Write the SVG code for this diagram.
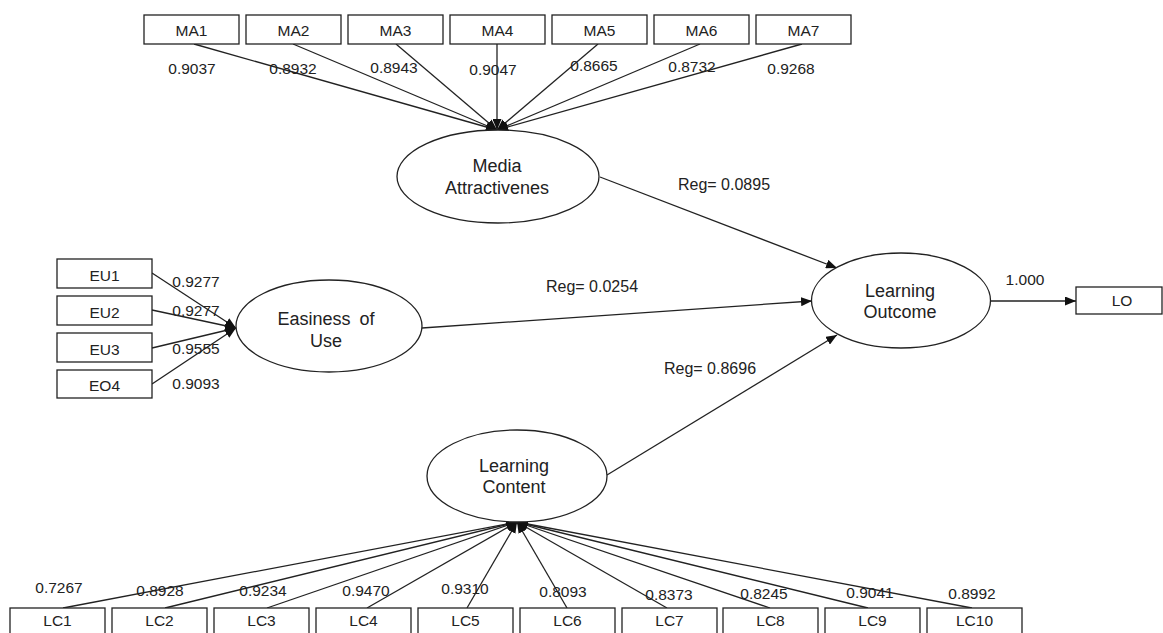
<svg xmlns="http://www.w3.org/2000/svg" width="1163" height="633" viewBox="0 0 1163 633">
<defs>
<style>
.box{fill:#fff;stroke:#222;stroke-width:1.3}
.ell{fill:#fff;stroke:#222;stroke-width:1.3}
.t{font-family:"Liberation Sans",Arial,sans-serif;font-size:15.5px;fill:#222;text-anchor:middle}
.r{font-family:"Liberation Sans",Arial,sans-serif;font-size:16px;fill:#222;text-anchor:middle}
.et{font-family:"Liberation Sans",Arial,sans-serif;font-size:18px;fill:#222;text-anchor:middle}
.c{stroke:#222;stroke-width:1.3;fill:none;marker-end:url(#ah)}
</style>
<marker id="ah" markerUnits="userSpaceOnUse" markerWidth="11" markerHeight="9" refX="11" refY="4.5" orient="auto">
<path d="M0,0 L11,4.5 L0,9 z" fill="#111"/>
</marker>
</defs>
<rect width="1163" height="633" fill="#fff"/>
<g id="connectors">
<line class="c" x1="194" y1="44" x2="497" y2="130"/>
<line class="c" x1="293" y1="44" x2="497" y2="130"/>
<line class="c" x1="396" y1="44" x2="497" y2="130"/>
<line class="c" x1="497" y1="44" x2="497" y2="130"/>
<line class="c" x1="598" y1="44" x2="497" y2="130"/>
<line class="c" x1="700" y1="44" x2="497" y2="130"/>
<line class="c" x1="802" y1="44" x2="497" y2="130"/>
<line class="c" x1="152" y1="273" x2="236" y2="328"/>
<line class="c" x1="152" y1="310" x2="236" y2="328"/>
<line class="c" x1="152" y1="348" x2="236" y2="328"/>
<line class="c" x1="152" y1="384" x2="236" y2="328"/>
<line class="c" x1="63" y1="608" x2="517" y2="522"/>
<line class="c" x1="165" y1="608" x2="517" y2="522"/>
<line class="c" x1="267" y1="608" x2="517" y2="522"/>
<line class="c" x1="367" y1="608" x2="517" y2="522"/>
<line class="c" x1="467" y1="608" x2="517" y2="522"/>
<line class="c" x1="567" y1="608" x2="517" y2="522"/>
<line class="c" x1="667" y1="608" x2="517" y2="522"/>
<line class="c" x1="770" y1="608" x2="517" y2="522"/>
<line class="c" x1="868" y1="608" x2="517" y2="522"/>
<line class="c" x1="972" y1="608" x2="517" y2="522"/>
<line class="c" x1="600" y1="177" x2="837" y2="268"/>
<line class="c" x1="422" y1="328" x2="812" y2="301"/>
<line class="c" x1="607" y1="475" x2="837" y2="335"/>
<line class="c" x1="991" y1="301" x2="1076" y2="301"/>
</g>
<g id="labels">
<text class="t" x="192" y="74">0.9037</text>
<text class="t" x="293" y="74">0.8932</text>
<text class="t" x="394" y="73">0.8943</text>
<text class="t" x="493" y="75">0.9047</text>
<text class="t" x="594" y="71">0.8665</text>
<text class="t" x="692" y="72">0.8732</text>
<text class="t" x="791" y="74">0.9268</text>
<text class="t" x="196" y="287">0.9277</text>
<text class="t" x="196" y="316">0.9277</text>
<text class="t" x="196" y="354">0.9555</text>
<text class="t" x="196" y="389">0.9093</text>
<text class="t" x="59" y="593">0.7267</text>
<text class="t" x="160" y="596">0.8928</text>
<text class="t" x="263" y="596">0.9234</text>
<text class="t" x="366" y="596">0.9470</text>
<text class="t" x="465" y="594">0.9310</text>
<text class="t" x="563" y="597">0.8093</text>
<text class="t" x="669" y="600">0.8373</text>
<text class="t" x="764" y="599">0.8245</text>
<text class="t" x="870" y="598">0.9041</text>
<text class="t" x="972" y="599">0.8992</text>
<text class="r" x="724" y="190">Reg= 0.0895</text>
<text class="r" x="592" y="292">Reg= 0.0254</text>
<text class="r" x="710" y="374">Reg= 0.8696</text>
<text class="t" x="1025" y="285">1.000</text>
</g>
<g id="MA1"><rect class="box" x="144" y="15" width="95" height="29"/><text class="t" x="191.5" y="36">MA1</text></g>
<g id="MA2"><rect class="box" x="246" y="15" width="95" height="29"/><text class="t" x="293.5" y="36">MA2</text></g>
<g id="MA3"><rect class="box" x="348" y="15" width="95" height="29"/><text class="t" x="395.5" y="36">MA3</text></g>
<g id="MA4"><rect class="box" x="450" y="15" width="95" height="29"/><text class="t" x="497.5" y="36">MA4</text></g>
<g id="MA5"><rect class="box" x="552" y="15" width="95" height="29"/><text class="t" x="599.5" y="36">MA5</text></g>
<g id="MA6"><rect class="box" x="654" y="15" width="95" height="29"/><text class="t" x="701.5" y="36">MA6</text></g>
<g id="MA7"><rect class="box" x="756" y="15" width="95" height="29"/><text class="t" x="803.5" y="36">MA7</text></g>
<g id="EU1"><rect class="box" x="57" y="259" width="95" height="29"/><text class="t" x="104.5" y="281">EU1</text></g>
<g id="EU2"><rect class="box" x="57" y="296" width="95" height="29"/><text class="t" x="104.5" y="318">EU2</text></g>
<g id="EU3"><rect class="box" x="57" y="333" width="95" height="29"/><text class="t" x="104.5" y="355">EU3</text></g>
<g id="EO4"><rect class="box" x="57" y="370" width="95" height="28"/><text class="t" x="104.5" y="391">EO4</text></g>
<g id="LC1"><rect class="box" x="10" y="608" width="95" height="30"/><text class="t" x="57.5" y="626">LC1</text></g>
<g id="LC2"><rect class="box" x="112" y="608" width="95" height="30"/><text class="t" x="159.5" y="626">LC2</text></g>
<g id="LC3"><rect class="box" x="214" y="608" width="95" height="30"/><text class="t" x="261.5" y="626">LC3</text></g>
<g id="LC4"><rect class="box" x="316" y="608" width="95" height="30"/><text class="t" x="363.5" y="626">LC4</text></g>
<g id="LC5"><rect class="box" x="418" y="608" width="95" height="30"/><text class="t" x="465.5" y="626">LC5</text></g>
<g id="LC6"><rect class="box" x="520" y="608" width="95" height="30"/><text class="t" x="567.5" y="626">LC6</text></g>
<g id="LC7"><rect class="box" x="622" y="608" width="95" height="30"/><text class="t" x="669.5" y="626">LC7</text></g>
<g id="LC8"><rect class="box" x="723" y="608" width="95" height="30"/><text class="t" x="770.5" y="626">LC8</text></g>
<g id="LC9"><rect class="box" x="825" y="608" width="95" height="30"/><text class="t" x="872.5" y="626">LC9</text></g>
<g id="LC10"><rect class="box" x="927" y="608" width="95" height="30"/><text class="t" x="974.5" y="626">LC10</text></g>
<g id="LO"><rect class="box" x="1076" y="287" width="86" height="27"/><text class="t" x="1122" y="306">LO</text></g>
<g id="MediaAttractivenes"><ellipse class="ell" cx="498" cy="176.5" rx="101" ry="46.5"/><text class="et" x="497" y="172">Media</text><text class="et" x="497" y="194">Attractivenes</text></g>
<g id="EasinessOfUse"><ellipse class="ell" cx="329" cy="326" rx="93" ry="46"/><text class="et" x="326" y="325" style="word-spacing:4px">Easiness of</text><text class="et" x="326" y="347">Use</text></g>
<g id="LearningOutcome"><ellipse class="ell" cx="901" cy="300.5" rx="89.5" ry="47.5"/><text class="et" x="900" y="297">Learning</text><text class="et" x="900" y="318">Outcome</text></g>
<g id="LearningContent"><ellipse class="ell" cx="517" cy="476" rx="90" ry="46"/><text class="et" x="514" y="472">Learning</text><text class="et" x="514" y="493">Content</text></g>
</svg>
